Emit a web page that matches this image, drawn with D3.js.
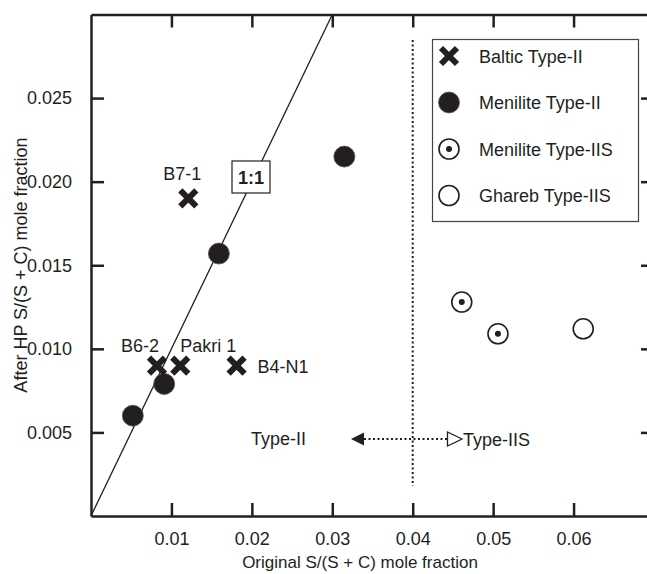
<!DOCTYPE html>
<html>
<head>
<meta charset="utf-8">
<script src="https://cdn.jsdelivr.net/npm/d3@7"></script>
<style>
  body { margin: 0; background: #fff; }
  svg { display: block; font-family: "Liberation Sans", Arial, sans-serif; }
</style>
</head>
<body>
<div id="chart"></div>
<script>
var W = 647, H = 574;
var ink = "#231f20";

// data: [original, after HP]
var balticII = [
  {name: "B7-1",    x: 0.0121, y: 0.0190},
  {name: "B6-2",    x: 0.0082, y: 0.0090},
  {name: "Pakri 1", x: 0.0111, y: 0.0090},
  {name: "B4-N1",   x: 0.0181, y: 0.0090}
];
var meniliteII = [
  {x: 0.0052, y: 0.0060},
  {x: 0.0091, y: 0.0079},
  {x: 0.0159, y: 0.0157},
  {x: 0.0315, y: 0.0215}
];
var meniliteIIS = [
  {x: 0.0461, y: 0.0128},
  {x: 0.0506, y: 0.0109}
];
var ghareIIS = [
  {x: 0.0612, y: 0.0112}
];
var xTicks = [0.01, 0.02, 0.03, 0.04, 0.05, 0.06];
var yTicks = [0.005, 0.010, 0.015, 0.020, 0.025];
var legendItems = ["Baltic Type-II", "Menilite Type-II", "Menilite Type-IIS", "Ghareb Type-IIS"];
var boundary = 0.04;

var x = d3.scaleLinear().domain([0, 0.07]).range([91, 654]);
var y = d3.scaleLinear().domain([0, 0.03]).range([516, 14.5]);

var svg = d3.select("#chart").append("svg")
  .attr("width", W).attr("height", H);

// 1:1 line
svg.append("line")
  .attr("x1", x(0)).attr("y1", y(0))
  .attr("x2", x(0.03)).attr("y2", y(0.03))
  .attr("stroke", ink).attr("stroke-width", 1.3);

// frame + ticks (inward on all sides)
var axB = svg.append("g").attr("transform", "translate(0," + y(0) + ")")
  .call(d3.axisBottom(x).tickValues(xTicks).tickSizeInner(-13).tickSizeOuter(0).tickPadding(16)
    .tickFormat(d3.format(".2f")));
var axT = svg.append("g").attr("transform", "translate(0," + y(0.03) + ")")
  .call(d3.axisTop(x).tickValues(xTicks).tickSizeInner(-13).tickSizeOuter(0).tickFormat(""));
var axL = svg.append("g").attr("transform", "translate(" + x(0) + ",0)")
  .call(d3.axisLeft(y).tickValues(yTicks).tickSizeInner(-13).tickSizeOuter(0).tickPadding(19)
    .tickFormat(d3.format(".3f")));
var axR = svg.append("g").attr("transform", "translate(" + x(0.07) + ",0)")
  .call(d3.axisRight(y).tickValues(yTicks).tickSizeInner(-13).tickSizeOuter(0).tickFormat(""));

[axB, axT, axL, axR].forEach(function(g) {
  g.select(".domain").attr("stroke", ink).attr("stroke-width", 2.5);
  g.selectAll(".tick line").attr("stroke", ink).attr("stroke-width", 2.5);
  g.selectAll(".tick text").attr("fill", ink).attr("font-size", 18)
    .attr("font-family", "Liberation Sans, Arial, sans-serif");
});

// axis titles
svg.append("text")
  .attr("x", 360).attr("y", 568)
  .attr("text-anchor", "middle").attr("font-size", 17).attr("fill", ink)
  .text("Original S/(S + C) mole fraction");
svg.append("text")
  .attr("transform", "translate(27,265) rotate(-90)")
  .attr("text-anchor", "middle").attr("font-size", 18).attr("fill", ink)
  .text("After HP S/(S + C) mole fraction");

// Type-II / Type-IIS boundary
svg.append("line")
  .attr("x1", x(boundary)).attr("x2", x(boundary))
  .attr("y1", 40).attr("y2", 486)
  .attr("stroke", ink).attr("stroke-width", 2).attr("stroke-dasharray", "2,2.5");

// double arrow
var ay = 439;
svg.append("line")
  .attr("x1", 364).attr("x2", 447).attr("y1", ay).attr("y2", ay)
  .attr("stroke", ink).attr("stroke-width", 2).attr("stroke-dasharray", "2,2.5");
svg.append("path")
  .attr("d", "M351," + ay + "L364," + (ay - 6.5) + "L364," + (ay + 6.5) + "Z")
  .attr("fill", ink);
svg.append("path")
  .attr("d", "M462," + ay + "L447.5," + (ay - 7) + "L447.5," + (ay + 7) + "Z")
  .attr("fill", "#fff").attr("stroke", ink).attr("stroke-width", 1.3);
svg.append("text").attr("x", 251).attr("y", 445).attr("font-size", 18).attr("fill", ink).text("Type-II");
svg.append("text").attr("x", 463).attr("y", 446).attr("font-size", 18).attr("fill", ink).text("Type-IIS");

// 1:1 label box
svg.append("rect").attr("x", 232).attr("y", 161).attr("width", 38).attr("height", 32)
  .attr("fill", "#fff").attr("stroke", ink).attr("stroke-width", 1.2);
svg.append("text").attr("x", 251).attr("y", 183.5).attr("text-anchor", "middle")
  .attr("font-size", 18).attr("font-weight", "bold").attr("fill", ink).text("1:1");

// marker drawers
function cross(g) {
  g.append("path").attr("d", "M-8,-8L8,8M-8,8L8,-8")
    .attr("stroke", ink).attr("stroke-width", 6).attr("fill", "none");
}
function filled(g) {
  g.append("circle").attr("r", 10.5).attr("fill", ink).attr("stroke", "#555").attr("stroke-width", 0.8);
}
function dotted(g) {
  g.append("circle").attr("r", 10).attr("fill", "#fff").attr("stroke", ink).attr("stroke-width", 1.6);
  g.append("circle").attr("r", 3).attr("fill", ink);
}
function open(g) {
  g.append("circle").attr("r", 10).attr("fill", "#fff").attr("stroke", ink).attr("stroke-width", 1.6);
}

function plot(data, draw) {
  svg.append("g").selectAll("g").data(data).enter().append("g")
    .attr("transform", function(d) { return "translate(" + x(d.x) + "," + y(d.y) + ")"; })
    .each(function() { draw(d3.select(this)); });
}
plot(meniliteII, filled);
plot(meniliteIIS, dotted);
plot(ghareIIS, open);
plot(balticII, cross);

// sample labels
var labelPos = {
  "B7-1":    {dx: -6,  dy: -18, anchor: "middle"},
  "B6-2":    {dx: -17, dy: -14, anchor: "middle"},
  "Pakri 1": {dx: 0,   dy: -14, anchor: "start"},
  "B4-N1":   {dx: 21,  dy: 7,   anchor: "start"}
};
svg.append("g").selectAll("text").data(balticII).enter().append("text")
  .attr("x", function(d) { return x(d.x) + labelPos[d.name].dx; })
  .attr("y", function(d) { return y(d.y) + labelPos[d.name].dy; })
  .attr("text-anchor", function(d) { return labelPos[d.name].anchor; })
  .attr("font-size", 18).attr("fill", ink)
  .text(function(d) { return d.name; });

// legend
var leg = svg.append("g");
leg.append("rect").attr("x", 432.5).attr("y", 39.5).attr("width", 206).attr("height", 182)
  .attr("fill", "#fff").attr("stroke", "#444").attr("stroke-width", 1.2);
var drawers = [cross, filled, dotted, open];
var rows = leg.selectAll("g").data(legendItems).enter().append("g")
  .attr("transform", function(d, i) { return "translate(449," + (56 + i * 46.5) + ")"; });
rows.each(function(d, i) { drawers[i](d3.select(this)); });
rows.append("text").attr("x", 30).attr("y", 6.5).attr("font-size", 18).attr("fill", ink)
  .text(function(d) { return d; });
</script>
</body>
</html>
